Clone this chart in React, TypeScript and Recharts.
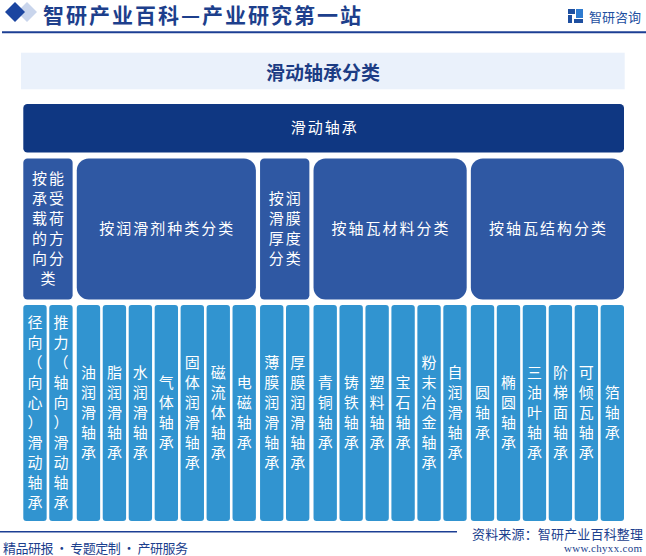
import React from 'react';
import { ComposedChart, XAxis, YAxis, ReferenceArea, Line } from 'recharts';

const HEADER_TEXT = '智研产业百科—产业研究第一站';
const BRAND = '智研咨询';
const TITLE = '滑动轴承分类';
const ROOT = '滑动轴承';
const GROUPS = ['按能承受载荷的方向分类', '按润滑剂种类分类', '按润滑膜厚度分类', '按轴瓦材料分类', '按轴瓦结构分类'];
const LEAVES_G1 = ['径向（向心）滑动轴承', '推力（轴向）滑动轴承'];
const LEAVES_G2 = ['油润滑轴承', '脂润滑轴承', '水润滑轴承', '气体轴承', '固体润滑轴承', '磁流体轴承', '电磁轴承'];
const LEAVES_G3 = ['薄膜润滑轴承', '厚膜润滑轴承'];
const LEAVES_G4 = ['青铜轴承', '铸铁轴承', '塑料轴承', '宝石轴承', '粉末冶金轴承', '自润滑轴承'];
const LEAVES_G5 = ['圆轴承', '椭圆轴承', '三油叶轴承', '阶梯面轴承', '可倾瓦轴承', '箔轴承'];
const LEAVES = [LEAVES_G1, LEAVES_G2, LEAVES_G3, LEAVES_G4, LEAVES_G5];
const SOURCE = '资料来源：智研产业百科整理';
const SITE = 'www.chyxx.com';
const SLOGAN = '精品研报 · 专题定制 · 产研服务';

const W = 646;
const H = 556;
const GROUP_GAP = 0.06; // extra spacing between groups in leaf units
const LEVEL_ROOT: [number, number] = [104, 152.5];
const LEVEL_GROUP: [number, number] = [158.5, 299.5];
const LEVEL_LEAF: [number, number] = [305, 521];

const C_ROOT = '#0F3782';
const C_GROUP = '#2F58A3';
const C_LEAF = '#3194D0';
const C_DARK = '#1C3F8E';
const FONT = '"Noto Sans CJK SC", "Noto Sans", sans-serif';

type Box = { x1: number; x2: number; label: string; fill: string; level: [number, number] };
const groupBoxes: Box[] = [];
const leafBoxes: Box[] = [];
let cursor = 0;
LEAVES.forEach((leaves, gi) => {
  const start = cursor;
  leaves.forEach((l) => {
    leafBoxes.push({ x1: cursor, x2: cursor + 1, label: l, fill: C_LEAF, level: LEVEL_LEAF });
    cursor += 1;
  });
  groupBoxes.push({ x1: start, x2: cursor, label: GROUPS[gi], fill: C_GROUP, level: LEVEL_GROUP });
  if (gi < LEAVES.length - 1) cursor += GROUP_GAP;
});
const TOTAL = cursor;
const rootBox: Box = { x1: 0, x2: TOTAL, label: ROOT, fill: C_ROOT, level: LEVEL_ROOT };
const dummy = leafBoxes.map((b) => ({ x: (b.x1 + b.x2) / 2, y: LEVEL_LEAF[0] }));

const INSET = 1.3;

function wrap(label: string, width: number): string[] {
  const per = Math.max(1, Math.floor((width - 8) / 17));
  const lines: string[] = [];
  for (let i = 0; i < label.length; i += per) lines.push(label.slice(i, i + per));
  return lines;
}

function makeShape(box: Box) {
  return (props: any) => {
    const { x, y, width, height } = props;
    const bx = x + INSET;
    const bw = width - INSET * 2;
    const r = Math.max(3, 0.085 * Math.min(bw, height));
    const lines = wrap(box.label, bw);
    const pitch = 20;
    const cx = bx + bw / 2;
    const cy = y + height / 2 - 2;
    const y0 = cy - ((lines.length - 1) * pitch) / 2;
    return (
      <g>
        <rect x={bx} y={y} width={bw} height={height} rx={r} ry={r} fill={box.fill} />
        {lines.map((ln, i) => (
          <text
            key={i}
            x={cx + (ln.length > 1 ? 1 : 0)}
            y={y0 + i * pitch}
            textAnchor="middle"
            dominantBaseline="central"
            fontSize={15}
            fill="#ffffff"
            fontFamily={FONT}
            letterSpacing={ln.length > 1 ? 2 : 0}
          >
            {ln}
          </text>
        ))}
      </g>
    );
  };
}

const allBoxes = [rootBox, ...groupBoxes, ...leafBoxes];

function Decor() {
  return (
    <svg width={W} height={H} style={{ position: 'absolute', left: 0, top: 0 }}>
      <rect x={0} y={0} width={W} height={H} fill="#ffffff" />
      <polygon points="27,2 37,12 27,22 17,12" fill="#C9D5EC" />
      <polygon points="15,2 25,12 15,22 5,12" fill="#1B45A0" />
      <text x={43} y={14} dominantBaseline="central" fontSize={21} fontWeight="bold" fill="#1D3F8C"
        fontFamily={FONT} textLength={318} lengthAdjust="spacing">{HEADER_TEXT}</text>
      <line x1={2} x2={W} y1={32.3} y2={32.3} stroke="#1C3F94" strokeWidth={2} />
      <g>
        <rect x={568} y={9} width={7} height={5} fill="#1E4FA0" />
        <rect x={568} y={15} width={4} height={8} fill="#1E4FA0" />
        <rect x={576} y={9} width={7} height={9} fill="#2E7BD0" />
        <rect x={574} y={19} width={9} height={4} fill="#1E4FA0" />
      </g>
      <text x={589} y={16} dominantBaseline="central" fontSize={13} fill="#1E4FA0" fontFamily={FONT}
        textLength={52} lengthAdjust="spacing">{BRAND}</text>
      <rect x={21} y={52.7} width={603.7} height={36.6} fill="#EAF1FB" />
      <text x={323} y={71.5} textAnchor="middle" dominantBaseline="central" fontSize={19} fontWeight="bold"
        fill="#1C3C84" fontFamily={FONT}>{TITLE}</text>
      <line x1={0} x2={457} y1={531.7} y2={531.7} stroke="#1C3F94" strokeWidth={1.5} />
      <text x={472} y={533.5} dominantBaseline="central" fontSize={13} fill={C_DARK} fontFamily={FONT}
        textLength={171} lengthAdjust="spacing">{SOURCE}</text>
      <text x={564} y={548} dominantBaseline="central" fontSize={11} fill={C_DARK}
        fontFamily='"Liberation Serif", serif' textLength={78} lengthAdjust="spacing">{SITE}</text>
      <text x={3} y={547.5} dominantBaseline="central" fontSize={13} fill={C_DARK} fontFamily={FONT}
        textLength={185} lengthAdjust="spacing">{SLOGAN}</text>
    </svg>
  );
}

export default function App() {
  return (
    <div style={{ position: 'absolute', left: 0, top: 0, width: W, height: H, overflow: 'hidden' }}>
      <Decor />
      <div style={{ position: 'absolute', left: 0, top: 0 }}>
        <ComposedChart width={W} height={H} data={dummy} margin={{ top: 0, right: W - 625.3, bottom: 0, left: 22 }}>
          <XAxis dataKey="x" type="number" domain={[0, TOTAL]} allowDataOverflow hide />
          <YAxis type="number" domain={[0, H]} allowDataOverflow reversed hide />
          <Line dataKey="y" stroke="none" dot={false} activeDot={false} isAnimationActive={false} />
          {allBoxes.map((b, i) => (
            <ReferenceArea
              key={i}
              x1={b.x1}
              x2={b.x2}
              y1={b.level[0]}
              y2={b.level[1]}
              ifOverflow="visible"
              shape={makeShape(b)}
            />
          ))}
        </ComposedChart>
      </div>
    </div>
  );
}
